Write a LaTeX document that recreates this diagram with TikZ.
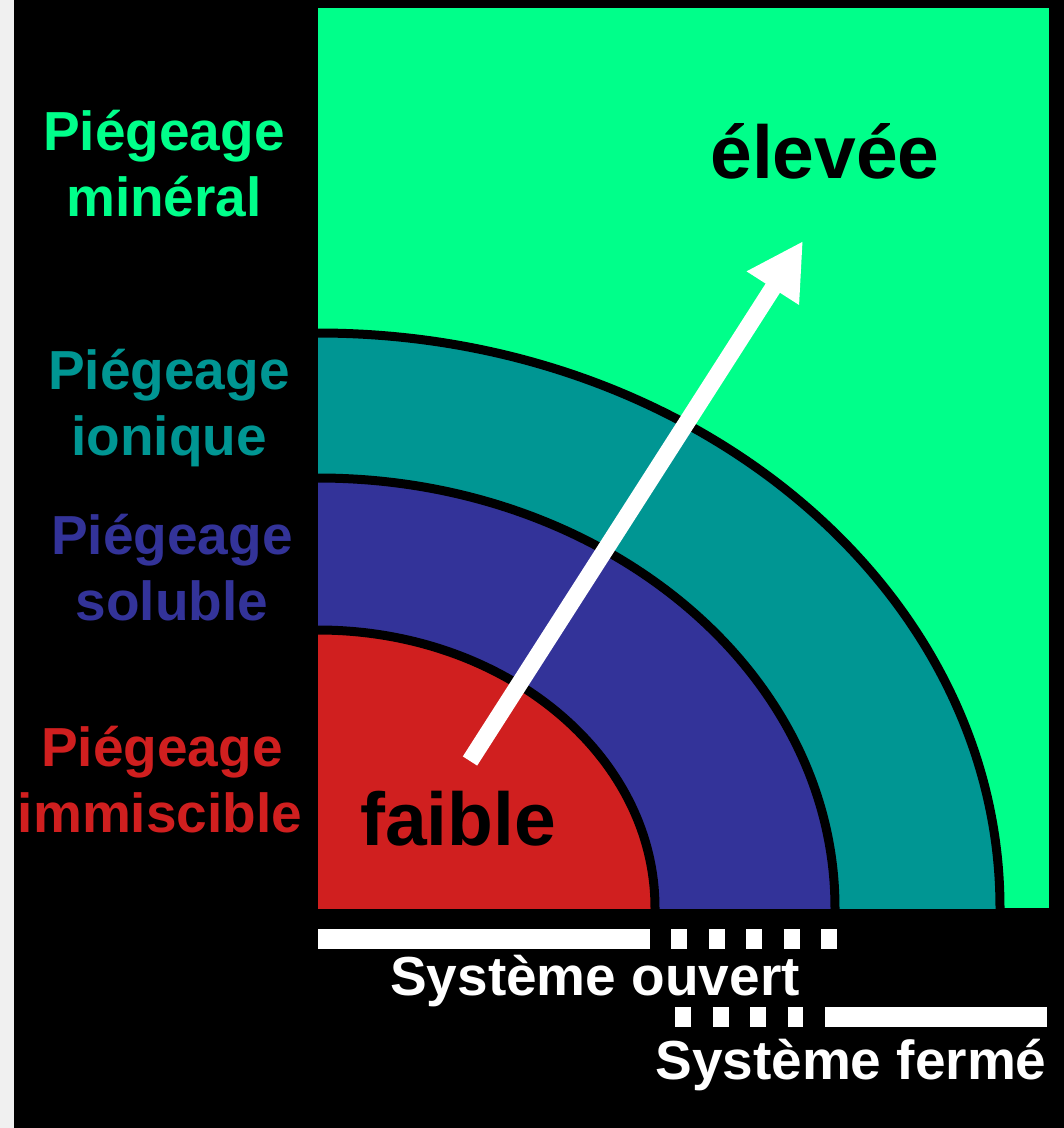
\documentclass[tikz,border=0pt]{standalone}
\usepackage{fontspec}
\setmainfont{Liberation Sans}
\usetikzlibrary{arrows.meta}
\definecolor{mineralgreen}{HTML}{00FF8A}
\definecolor{ionicteal}{HTML}{009693}
\definecolor{solubleblue}{HTML}{333399}
\definecolor{immisred}{HTML}{D01F1F}
\definecolor{pagegrey}{HTML}{F0F0F0}
\tikzset{
  sidelabel/.style={anchor=base, inner sep=0pt, font=\fontsize{55}{66}\selectfont\bfseries},
  biglabel/.style={anchor=base, inner sep=0pt, font=\fontsize{75}{90}\selectfont\bfseries, text=black},
  barlabel/.style={anchor=base, inner sep=0pt, font=\fontsize{55}{66}\selectfont\bfseries, text=white},
  ringline/.style={draw=black, line width=9pt},
  whitebar/.style={draw=white, line width=20pt},
  dashbar/.style={whitebar, dash pattern=on 16pt off 21.5pt},
  bigarrow/.style={-{Triangle[length=56pt,width=58pt]}, draw=white, line width=17pt},
}

\begin{document}
\begin{tikzpicture}[x=1pt,y=-1pt]
  \useasboundingbox (0,0) rectangle (1064,1128);
  \fill[pagegrey] (0,0) rectangle (14,1128);
  \fill[black] (14,0) rectangle (1064,1128);

  % trapping zones
  \begin{scope}
    \clip (318,8) rectangle (1049,908);
    \fill[mineralgreen] (318,8) rectangle (1049,908);
    \filldraw[ringline, fill=ionicteal] (318,908) ellipse (682 and 575);
    \filldraw[ringline, fill=solubleblue] (318,908) ellipse (517 and 430);
    \filldraw[ringline, fill=immisred] (318,908) ellipse (337 and 278);
  \end{scope}

  \coordinate (low) at (470,761);
  \coordinate (high) at (803,241);
  \draw[bigarrow] (low) -- (high);

  \node[biglabel] (high-lab) at (825,178) {élevée};
  \node[biglabel] (low-lab) at (458,845) {faible};

  \node[sidelabel, text=mineralgreen] (min-a) at (164,150) {Piégeage};
  \node[sidelabel, text=mineralgreen] (min-b) at (164,216) {minéral};
  \node[sidelabel, text=ionicteal] (ion-a) at (169,389) {Piégeage};
  \node[sidelabel, text=ionicteal] (ion-b) at (169,455) {ionique};
  \node[sidelabel, text=solubleblue] (sol-a) at (172,554) {Piégeage};
  \node[sidelabel, text=solubleblue] (sol-b) at (172,620) {soluble};
  \node[sidelabel, text=immisred] (imm-a) at (162,766) {Piégeage};
  \node[sidelabel, text=immisred] (imm-b) at (160,832) {immiscible};

  % open / closed system bars
  \draw[whitebar] (318,939) -- (650,939);
  \draw[dashbar] (671,939) -- (837,939);
  \node[barlabel] (open) at (595,995) {Système ouvert};
  \draw[dashbar] (675,1017) -- (803,1017);
  \draw[whitebar] (825,1017) -- (1047,1017);
  \node[barlabel] (closed) at (851,1079) {Système fermé};
\end{tikzpicture}
\end{document}
